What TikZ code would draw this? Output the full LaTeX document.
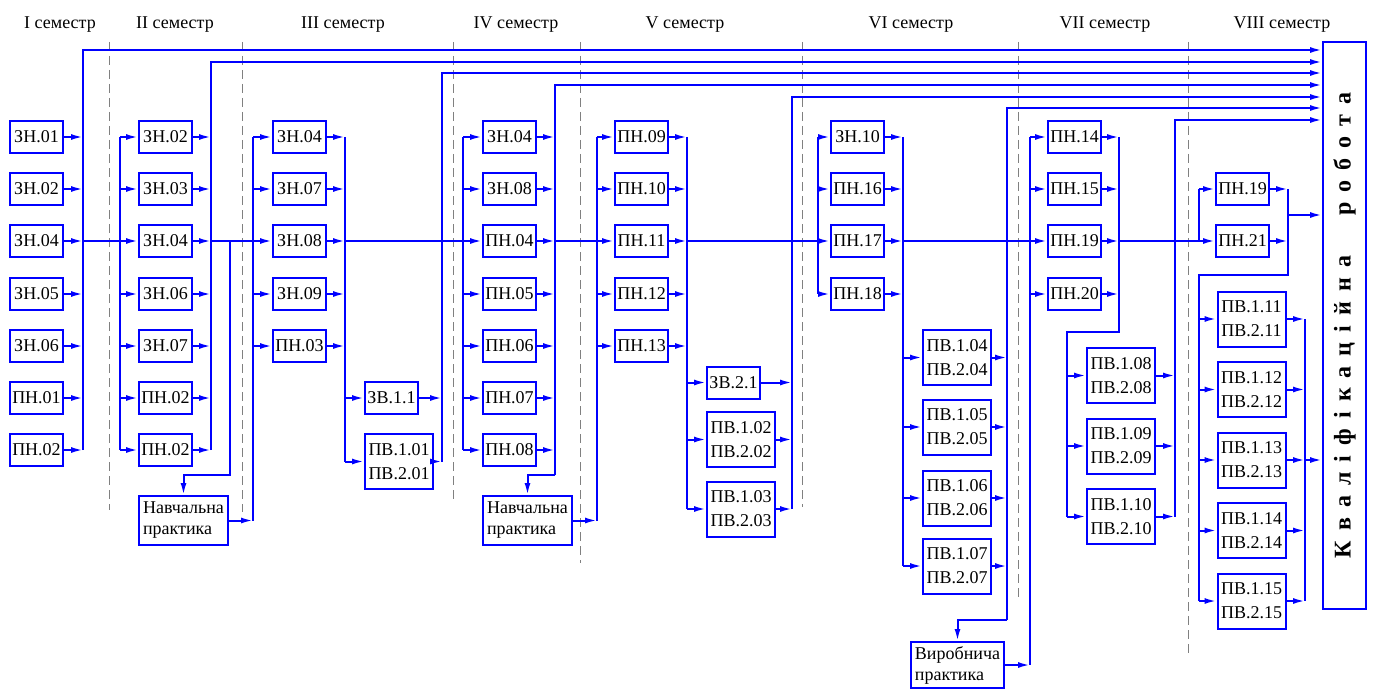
\documentclass[tikz,border=0pt]{standalone}
\usepackage{fontspec}
\setmainfont{Liberation Serif}
\usetikzlibrary{arrows.meta}
\begin{document}
\begin{tikzpicture}[x=1pt,y=-1pt,
  ln/.style={blue,line width=2pt},
  arr/.style={ln,-{Latex[length=12pt,width=6pt]}},
  box/.style={draw=blue,line width=2pt,fill=white,inner sep=0pt,minimum width=53pt,minimum height=32pt,font=\rmfamily\fontsize{18}{22}\selectfont},
  boxtwo/.style={box,minimum width=68pt,minimum height=55pt,align=center,font=\rmfamily\fontsize{18}{24}\selectfont},
  prac/.style={box,align=left,minimum height=49pt,font=\rmfamily\fontsize{18}{21}\selectfont},
  sem/.style={font=\rmfamily\fontsize{18}{22}\selectfont,anchor=base},
  sep/.style={gray,line width=0.8pt,dash pattern=on 9pt off 5pt}]
\useasboundingbox (0,0) rectangle (1373,690);
% semester titles
\node[sem] (s1) at (60,29) {I семестр};
\node[sem] (s2) at (175,29) {II семестр};
\node[sem] (s3) at (343,29) {III семестр};
\node[sem] (s4) at (516,29) {IV семестр};
\node[sem] (s5) at (685,29) {V семестр};
\node[sem] (s6) at (911,29) {VI семестр};
\node[sem] (s7) at (1105,29) {VII семестр};
\node[sem] (s8) at (1282,29) {VIII семестр};
% separators
\draw[sep] (109,42) -- (109,510);
\draw[sep] (242,42) -- (242,512);
\draw[sep] (453,42) -- (453,503);
\draw[sep] (580,42) -- (580,563);
\draw[sep] (802,42) -- (802,507);
\draw[sep] (1018,42) -- (1018,600);
\draw[sep] (1188,42) -- (1188,655);
% final box
\node[draw=blue,line width=2pt,rotate=90,minimum width=567pt,minimum height=43pt,inner sep=0pt,
  font=\rmfamily\fontsize{24}{28}\selectfont\bfseries] (kr) at (1344.5,325.5)
  {\addfontfeature{LetterSpace=42}Кваліфікаційна\hspace{40pt}робота};
% column 1
\node[box] (a11) at (36.5,137) {ЗН.01};
\node[box] (a12) at (36.5,189) {ЗН.02};
\node[box] (a13) at (36.5,241) {ЗН.04};
\node[box] (a14) at (36.5,294) {ЗН.05};
\node[box] (a15) at (36.5,346) {ЗН.06};
\node[box] (a16) at (36.5,398) {ПН.01};
\node[box] (a17) at (36.5,450) {ПН.02};
% column 2
\node[box] (a21) at (165.5,137) {ЗН.02};
\node[box] (a22) at (165.5,189) {ЗН.03};
\node[box] (a23) at (165.5,241) {ЗН.04};
\node[box] (a24) at (165.5,294) {ЗН.06};
\node[box] (a25) at (165.5,346) {ЗН.07};
\node[box] (a26) at (165.5,398) {ПН.02};
\node[box] (a27) at (165.5,450) {ПН.02};
\node[prac,minimum width=89pt] (np1) at (183.5,520.5) {Навчальна\\практика};
% column 3
\node[box] (a31) at (299.5,137) {ЗН.04};
\node[box] (a32) at (299.5,189) {ЗН.07};
\node[box] (a33) at (299.5,241) {ЗН.08};
\node[box] (a34) at (299.5,294) {ЗН.09};
\node[box] (a35) at (299.5,346) {ПН.03};
\node[box] (v31) at (391.5,398) {ЗВ.1.1};
\node[boxtwo] (v32) at (399,461.5) {ПВ.1.01\\ПВ.2.01};
% column 4
\node[box] (a41) at (509.5,137) {ЗН.04};
\node[box] (a42) at (509.5,189) {ЗН.08};
\node[box] (a43) at (509.5,241) {ПН.04};
\node[box] (a44) at (509.5,294) {ПН.05};
\node[box] (a45) at (509.5,346) {ПН.06};
\node[box] (a46) at (509.5,398) {ПН.07};
\node[box] (a47) at (509.5,450) {ПН.08};
\node[prac,minimum width=89pt] (np2) at (527.5,520.5) {Навчальна\\практика};
% column 5
\node[box] (a51) at (641.5,137) {ПН.09};
\node[box] (a52) at (641.5,189) {ПН.10};
\node[box] (a53) at (641.5,241) {ПН.11};
\node[box] (a54) at (641.5,294) {ПН.12};
\node[box] (a55) at (641.5,346) {ПН.13};
\node[box] (v51) at (733.5,382.5) {ЗВ.2.1};
\node[boxtwo] (v52) at (741,439.5) {ПВ.1.02\\ПВ.2.02};
\node[boxtwo] (v53) at (741,509) {ПВ.1.03\\ПВ.2.03};
% column 6
\node[box] (a61) at (857.5,137) {ЗН.10};
\node[box] (a62) at (857.5,189) {ПН.16};
\node[box] (a63) at (857.5,241) {ПН.17};
\node[box] (a64) at (857.5,294) {ПН.18};
\node[boxtwo] (v61) at (957,357.5) {ПВ.1.04\\ПВ.2.04};
\node[boxtwo] (v62) at (957,427) {ПВ.1.05\\ПВ.2.05};
\node[boxtwo] (v63) at (957,498) {ПВ.1.06\\ПВ.2.06};
\node[boxtwo] (v64) at (957,566) {ПВ.1.07\\ПВ.2.07};
\node[prac,minimum width=93pt,minimum height=46pt] (vp) at (957.5,665) {Виробнича\\практика};
% column 7
\node[box] (a71) at (1074.5,137) {ПН.14};
\node[box] (a72) at (1074.5,189) {ПН.15};
\node[box] (a73) at (1074.5,241) {ПН.19};
\node[box] (a74) at (1074.5,294) {ПН.20};
\node[boxtwo] (v71) at (1121,375.5) {ПВ.1.08\\ПВ.2.08};
\node[boxtwo] (v72) at (1121,446) {ПВ.1.09\\ПВ.2.09};
\node[boxtwo] (v73) at (1121,516.5) {ПВ.1.10\\ПВ.2.10};
% column 8
\node[box] (a81) at (1242.5,189) {ПН.19};
\node[box] (a82) at (1242.5,241) {ПН.21};
\node[boxtwo] (v81) at (1251.5,319) {ПВ.1.11\\ПВ.2.11};
\node[boxtwo] (v82) at (1251.5,389.5) {ПВ.1.12\\ПВ.2.12};
\node[boxtwo] (v83) at (1251.5,460) {ПВ.1.13\\ПВ.2.13};
\node[boxtwo] (v84) at (1251.5,530.5) {ПВ.1.14\\ПВ.2.14};
\node[boxtwo] (v85) at (1251.5,601) {ПВ.1.15\\ПВ.2.15};
% bus coordinates
\coordinate (R1) at (83,50);
\coordinate (L2) at (120,0);
\coordinate (R2) at (211,62);
\coordinate (P2) at (230,475);
\coordinate (L3) at (253,0);
\coordinate (R3) at (345,0);
\coordinate (C3) at (442,73);
\coordinate (L4) at (463,0);
\coordinate (R4) at (555,85);
\coordinate (P4) at (555,475);
\coordinate (L5) at (597,0);
\coordinate (R5) at (687,0);
\coordinate (C5) at (792,97);
\coordinate (L6) at (818,0);
\coordinate (R6) at (903,0);
\coordinate (C6) at (1007,108);
\coordinate (P6) at (1007,620);
\coordinate (L7) at (1030,0);
\coordinate (R7) at (1119,0);
\coordinate (Q7) at (1067,332);
\coordinate (C7) at (1175,120);
\coordinate (L8) at (1199,0);
\coordinate (R8) at (1288,0);
\coordinate (M8) at (1288,215);
\coordinate (Q8) at (1199,275);
\coordinate (C8) at (1305,0);
% column 1 connections
\foreach \k in {1,...,7} \draw[arr] (a1\k.east) -- (a1\k.east -| R1);
\draw[arr] (a17.east -| R1) -- (R1) -- (R1 -| kr.north);
\draw[ln] (a13.east -| R1) -- (a23.west -| L2);
% column 2
\draw[ln] (a21.west -| L2) -- (a27.west -| L2);
\foreach \k in {1,...,7} {
  \draw[arr] (a2\k.west -| L2) -- (a2\k.west);
  \draw[arr] (a2\k.east) -- (a2\k.east -| R2);
}
\draw[arr] (a27.east -| R2) -- (R2) -- (R2 -| kr.north);
\draw[arr] (a23.east -| P2) -- (P2) -- (P2 -| np1.north) -- (np1.north);
\draw[ln] (a23.east -| R2) -- (a33.west -| L3);
\draw[arr] (np1.east) -- (np1.east -| L3);
% column 3
\draw[ln] (a31.west -| L3) -- (np1.east -| L3);
\foreach \k in {1,...,5} {
  \draw[arr] (a3\k.west -| L3) -- (a3\k.west);
  \draw[arr] (a3\k.east) -- (a3\k.east -| R3);
}
\draw[ln] (a31.east -| R3) -- (v32.west -| R3);
\foreach \k in {1,2} {
  \draw[arr] (v3\k.west -| R3) -- (v3\k.west);
  \draw[arr] (v3\k.east) -- (v3\k.east -| C3);
}
\draw[arr] (v32.east -| C3) -- (C3) -- (C3 -| kr.north);
\draw[ln] (a33.east -| R3) -- (a43.west -| L4);
% column 4
\draw[ln] (a41.west -| L4) -- (a47.west -| L4);
\foreach \k in {1,...,7} {
  \draw[arr] (a4\k.west -| L4) -- (a4\k.west);
  \draw[arr] (a4\k.east) -- (a4\k.east -| R4);
}
\draw[arr] (P4) -- (R4) -- (R4 -| kr.north);
\draw[arr] (P4) -- (P4 -| np2.north) -- (np2.north);
\draw[arr] (np2.east) -- (np2.east -| L5);
\draw[ln] (a43.east -| R4) -- (a53.west -| L5);
% column 5
\draw[ln] (a51.west -| L5) -- (np2.east -| L5);
\foreach \k in {1,...,5} {
  \draw[arr] (a5\k.west -| L5) -- (a5\k.west);
  \draw[arr] (a5\k.east) -- (a5\k.east -| R5);
}
\draw[ln] (a51.east -| R5) -- (v53.west -| R5);
\foreach \k in {1,2,3} {
  \draw[arr] (v5\k.west -| R5) -- (v5\k.west);
  \draw[arr] (v5\k.east) -- (v5\k.east -| C5);
}
\draw[arr] (v53.east -| C5) -- (C5) -- (C5 -| kr.north);
\draw[ln] (a53.east -| R5) -- (a63.west -| L6);
% column 6
\draw[ln] (a61.west -| L6) -- (a64.west -| L6);
\foreach \k in {1,...,4} {
  \draw[arr] (a6\k.west -| L6) -- (a6\k.west);
  \draw[arr] (a6\k.east) -- (a6\k.east -| R6);
}
\draw[ln] (a61.east -| R6) -- (v64.west -| R6);
\foreach \k in {1,...,4} {
  \draw[arr] (v6\k.west -| R6) -- (v6\k.west);
  \draw[arr] (v6\k.east) -- (v6\k.east -| C6);
}
\draw[arr] (P6) -- (C6) -- (C6 -| kr.north);
\draw[arr] (P6) -- (P6 -| vp.north) -- (vp.north);
\draw[arr] (vp.east) -- (vp.east -| L7);
\draw[ln] (a63.east -| R6) -- (a73.west -| L7);
% column 7
\draw[ln] (a71.west -| L7) -- (vp.east -| L7);
\foreach \k in {1,...,4} {
  \draw[arr] (a7\k.west -| L7) -- (a7\k.west);
  \draw[arr] (a7\k.east) -- (a7\k.east -| R7);
}
\draw[ln] (a71.east -| R7) -- (Q7 -| R7) -- (Q7) -- (v73.west -| Q7);
\foreach \k in {1,2,3} {
  \draw[arr] (v7\k.west -| Q7) -- (v7\k.west);
  \draw[arr] (v7\k.east) -- (v7\k.east -| C7);
}
\draw[arr] (v73.east -| C7) -- (C7) -- (C7 -| kr.north);
\draw[ln] (a73.east -| R7) -- (a82.west -| L8);
% column 8
\draw[ln] (a81.west -| L8) -- (a82.west -| L8);
\foreach \k in {1,2} {
  \draw[arr] (a8\k.west -| L8) -- (a8\k.west);
  \draw[arr] (a8\k.east) -- (a8\k.east -| R8);
}
\draw[ln] (a81.east -| R8) -- (Q8 -| R8) -- (Q8) -- (v85.west -| Q8);
\draw[arr] (M8) -- (M8 -| kr.north);
\foreach \k in {1,...,5} {
  \draw[arr] (v8\k.west -| Q8) -- (v8\k.west);
  \draw[arr] (v8\k.east) -- (v8\k.east -| C8);
}
\draw[ln] (v81.east -| C8) -- (v85.east -| C8);
\draw[arr] (v83.east -| C8) -- (v83.east -| kr.north);
\end{tikzpicture}
\end{document}
